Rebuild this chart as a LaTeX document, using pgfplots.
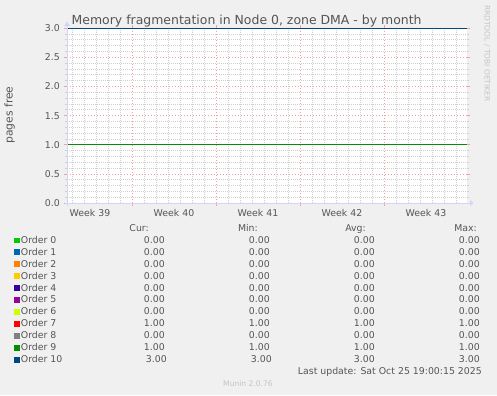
\documentclass[border=0pt]{standalone}
\usepackage{pgfplots}
\pgfplotsset{compat=1.18}
\usepackage{fontspec}
\setmainfont{DejaVu Sans}
\definecolor{backc}{HTML}{F0F0F0}
\definecolor{fontc}{HTML}{555555}
\definecolor{axisc}{HTML}{CFD6F8}
\definecolor{mgridc}{HTML}{F2A0A0}
\definecolor{gridc}{HTML}{CFCFCF}
\definecolor{wmc}{HTML}{C4C4C4}
\definecolor{o0}{HTML}{00CC00}
\definecolor{o1}{HTML}{0066B3}
\definecolor{o2}{HTML}{FF8000}
\definecolor{o3}{HTML}{FFCC00}
\definecolor{o4}{HTML}{330099}
\definecolor{o5}{HTML}{990099}
\definecolor{o6}{HTML}{CCFF00}
\definecolor{o7}{HTML}{FF0000}
\definecolor{o8}{HTML}{808080}
\definecolor{o9}{HTML}{008F00}
\definecolor{o10}{HTML}{00487D}
\newcommand\lf{\fontsize{9.4}{11}\selectfont}
\begin{document}
\begin{tikzpicture}[x=1bp,y=1bp]
\fill[backc] (-67,-192) rectangle (430,203);
\begin{axis}[
  at={(0,0)}, anchor=south west, scale only axis, width=400bp, height=175bp,
  xmin=-5.417, xmax=27.917, ymin=0, ymax=3,
  axis background/.style={fill=white},
  axis line style={draw=none},
  clip=false,
  tick align=outside,
  major tick length=3bp, minor tick length=2bp,
  xtick={0,7,14,21}, xticklabels={},
  minor xtick={-5,-4,-3,-2,-1,1,2,3,4,5,6,8,9,10,11,12,13,15,16,17,18,19,20,22,23,24,25,26,27},
  extra x ticks={-3.5,3.5,10.5,17.5,24.5},
  extra x tick labels={Week 39,Week 40,Week 41,Week 42,Week 43},
  extra x tick style={grid=none, major tick length=0bp},
  ytick={0,0.5,...,3},
  minor ytick={0.1,0.2,0.3,0.4,0.6,0.7,0.8,0.9,1.1,1.2,1.3,1.4,1.6,1.7,1.8,1.9,2.1,2.2,2.3,2.4,2.6,2.7,2.8,2.9},
  xmajorgrids, ymajorgrids, xminorgrids, yminorgrids,
  major grid style={mgridc, dash pattern=on 1bp off 2bp, line width=0.5bp},
  minor grid style={gridc, dash pattern=on 1bp off 1bp, line width=0.5bp},
  every major tick/.style={mgridc, line width=0.5bp},
  every minor tick/.style={gridc, line width=0.5bp},
  every minor x tick/.style={draw=none},
  /pgf/number format/assume math mode=true,
  yticklabel style={/pgf/number format/.cd, fixed, fixed zerofill, precision=1, /tikz/.cd,
    font=\lf, text=fontc, inner sep=0pt, anchor=base east, xshift=-4bp, yshift=-3.5bp},
  xticklabel style={font=\lf, text=fontc, inner sep=0pt, anchor=base, yshift=-13.5bp},
]
\addplot[o0, line width=1bp] coordinates {(-5.417,0) (27.917,0)};
\addplot[o1, line width=1bp] coordinates {(-5.417,0) (27.917,0)};
\addplot[o2, line width=1bp] coordinates {(-5.417,0) (27.917,0)};
\addplot[o3, line width=1bp] coordinates {(-5.417,0) (27.917,0)};
\addplot[o4, line width=1bp] coordinates {(-5.417,0) (27.917,0)};
\addplot[o5, line width=1bp] coordinates {(-5.417,0) (27.917,0)};
\addplot[o6, line width=1bp] coordinates {(-5.417,0) (27.917,0)};
\addplot[o7, line width=1bp] coordinates {(-5.417,1) (27.917,1)};
\addplot[o8, line width=1bp] coordinates {(-5.417,0) (27.917,0)};
\addplot[o9, line width=1bp] coordinates {(-5.417,1) (27.917,1)};
\addplot[o10, line width=1bp] coordinates {(-5.417,3) (27.917,3)};
\end{axis}
% axis lines
\draw[axisc, line width=1bp] (-2,0) -- (403,0);
\fill[axisc] (403,-3) -- (406.5,0) -- (403,3) -- cycle;
\draw[axisc, line width=1bp] (0,-3) -- (0,177);
\fill[axisc] (-3,177) -- (0,181.5) -- (3,177) -- cycle;
% title
\node[anchor=base west, inner sep=0pt, text=fontc, font=\fontsize{12.5}{14}\selectfont] at (4.5,178.7) {Memory fragmentation in Node 0, zone DMA - by month};
% y label
\node[rotate=90, anchor=base, inner sep=0pt, text=fontc, font=\fontsize{10.8}{12}\selectfont] at (-54.5,88) {pages free};
% watermark
\node[rotate=-90, anchor=base west, inner sep=0pt, text=wmc, font=\fontsize{7.5}{9}\selectfont] at (417.5,198) {RRDTOOL / TOBI OETIKER};
% legend
\begin{scope}[every node/.style={inner sep=0pt, text=fontc, font=\lf}]
\node[anchor=base east] at (82,-28.3) {Cur:};
\node[anchor=base east] at (191,-28.3) {Min:};
\node[anchor=base east] at (299,-28.3) {Avg:};
\node[anchor=base east] at (410,-28.3) {Max:};
\foreach \c/\n/\cu/\mi/\av/\ma [count=\k from 0] in {
  o0/Order 0/0.00/0.00/0.00/0.00,
  o1/Order 1/0.00/0.00/0.00/0.00,
  o2/Order 2/0.00/0.00/0.00/0.00,
  o3/Order 3/0.00/0.00/0.00/0.00,
  o4/Order 4/0.00/0.00/0.00/0.00,
  o5/Order 5/0.00/0.00/0.00/0.00,
  o6/Order 6/0.00/0.00/0.00/0.00,
  o7/Order 7/1.00/1.00/1.00/1.00,
  o8/Order 8/0.00/0.00/0.00/0.00,
  o9/Order 9/1.00/1.00/1.00/1.00} {
  \pgfmathsetmacro\yy{-40.2-11.95*\k}
  \fill[\c] (-53,\yy) rectangle (-47,\yy+5.7);
  \node[anchor=base west] at (-46.3,\yy) {\n};
  \node[anchor=base east] at (98,\yy) {\cu};
  \node[anchor=base east] at (203,\yy) {\mi};
  \node[anchor=base east] at (308,\yy) {\av};
  \node[anchor=base east] at (413,\yy) {\ma};
}
\pgfmathsetmacro\yy{-40.2-11.95*10}
\fill[o10] (-53,\yy) rectangle (-47,\yy+5.7);
\node[anchor=base west] at (-46.3,\yy) {Order 10};
\node[anchor=base east] at (100,\yy) {3.00};
\node[anchor=base east] at (205,\yy) {3.00};
\node[anchor=base east] at (308,\yy) {3.00};
\node[anchor=base east] at (413,\yy) {3.00};
\node[anchor=base east] at (415,-171.3) {Last update: Sat Oct 25 19:00:15 2025};
\end{scope}
\node[anchor=base, inner sep=0pt, text=wmc, font=\fontsize{7.6}{9}\selectfont] at (181,-183.7) {Munin 2.0.76};
\pgfresetboundingbox
\path[use as bounding box] (-67,-192) rectangle (430,203);
\end{tikzpicture}
\end{document}
